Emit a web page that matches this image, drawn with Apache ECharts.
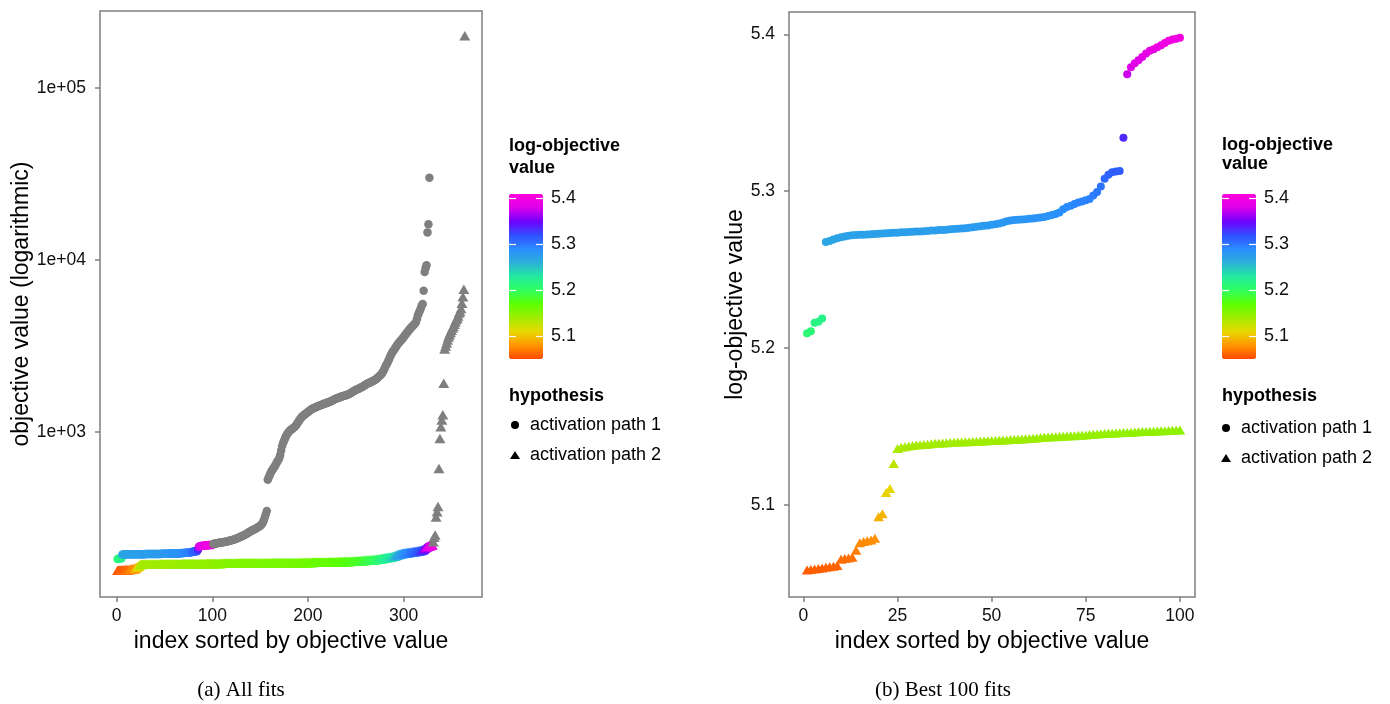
<!DOCTYPE html>
<html>
<head>
<meta charset="utf-8">
<script src="https://cdn.jsdelivr.net/npm/echarts@6.0.0/dist/echarts.min.js"></script>
<style>
html, body { margin: 0; padding: 0; background: #fff; }
#main { width: 1390px; height: 704px; }
</style>
</head>
<body>
<div id="main"></div>
<script>
// log-objective values (natural log of the objective), sorted, one per fit
var bestPath1 = [
    5.2094, 5.2108, 5.2161, 5.2168, 5.2189, 5.2677, 5.2683, 5.2692, 5.2700, 5.2707,
    5.2712, 5.2716, 5.2719, 5.2721, 5.2722, 5.2723, 5.2724, 5.2726, 5.2728, 5.2729,
    5.2730, 5.2732, 5.2733, 5.2735, 5.2736, 5.2738, 5.2739, 5.2740, 5.2741, 5.2743,
    5.2744, 5.2745, 5.2747, 5.2749, 5.2750, 5.2752, 5.2753, 5.2755, 5.2757, 5.2759,
    5.2761, 5.2762, 5.2764, 5.2767, 5.2770, 5.2774, 5.2777, 5.2780, 5.2782, 5.2786,
    5.2790, 5.2794, 5.2800, 5.2808, 5.2814, 5.2816, 5.2818, 5.2820, 5.2822, 5.2824,
    5.2826, 5.2829, 5.2832, 5.2836, 5.2842, 5.2848, 5.2855, 5.2864, 5.2885, 5.2900,
    5.2908, 5.2918, 5.2928, 5.2935, 5.2942, 5.2950, 5.2972, 5.2995, 5.3030, 5.3080,
    5.3105, 5.3120, 5.3125, 5.3129, 5.3340, 5.3745, 5.3790, 5.3815, 5.3835, 5.3855,
    5.3878, 5.3895, 5.3905, 5.3918, 5.3930, 5.3945, 5.3958, 5.3966, 5.3972, 5.3978
];
var bestPath2 = [
    5.0586, 5.0590, 5.0593, 5.0596, 5.0599, 5.0603, 5.0606, 5.0610, 5.0615, 5.0655,
    5.0660, 5.0663, 5.0668, 5.0712, 5.0760, 5.0768, 5.0772, 5.0778, 5.0788, 5.0925,
    5.0945, 5.1080, 5.1106, 5.1265, 5.1361, 5.1368, 5.1372, 5.1376, 5.1379, 5.1382,
    5.1384, 5.1386, 5.1388, 5.1391, 5.1393, 5.1394, 5.1396, 5.1397, 5.1399, 5.1400,
    5.1401, 5.1402, 5.1403, 5.1404, 5.1405, 5.1406, 5.1407, 5.1408, 5.1410, 5.1411,
    5.1412, 5.1413, 5.1414, 5.1415, 5.1417, 5.1418, 5.1419, 5.1421, 5.1422, 5.1424,
    5.1426, 5.1428, 5.1430, 5.1432, 5.1434, 5.1435, 5.1436, 5.1437, 5.1438, 5.1440,
    5.1441, 5.1442, 5.1444, 5.1445, 5.1447, 5.1449, 5.1451, 5.1453, 5.1455, 5.1456,
    5.1457, 5.1458, 5.1459, 5.1461, 5.1462, 5.1463, 5.1464, 5.1466, 5.1467, 5.1468,
    5.1469, 5.1470, 5.1471, 5.1472, 5.1473, 5.1474, 5.1475, 5.1476, 5.1477, 5.1478
];
// fits 101.. (only in the "all fits" panel)
var restPath1 = [
    5.410, 5.413, 5.416, 5.418, 5.421, 5.423, 5.425, 5.427, 5.429, 5.431,
    5.433, 5.435, 5.437, 5.440, 5.443, 5.446, 5.449, 5.452, 5.455, 5.459,
    5.463, 5.467, 5.471, 5.476, 5.481, 5.486, 5.491, 5.497, 5.503, 5.509,
    5.515, 5.521, 5.527, 5.534, 5.541, 5.548, 5.556, 5.564, 5.572, 5.580,
    5.588, 5.594, 5.600, 5.606, 5.612, 5.620, 5.628, 5.636, 5.644, 5.652,
    5.664, 5.678, 5.700, 5.730, 5.770, 5.810, 5.850, 6.270, 6.300, 6.330,
    6.360, 6.385, 6.405, 6.425, 6.445, 6.465, 6.490, 6.515, 6.535, 6.560,
    6.600, 6.660, 6.720, 6.760, 6.790, 6.820, 6.850, 6.875, 6.895, 6.910,
    6.925, 6.935, 6.945, 6.955, 6.965, 6.975, 6.990, 7.005, 7.025, 7.045,
    7.065, 7.085, 7.100, 7.115, 7.125, 7.135, 7.145, 7.155, 7.165, 7.175,
    7.185, 7.195, 7.205, 7.215, 7.222, 7.228, 7.234, 7.240, 7.245, 7.250,
    7.255, 7.260, 7.265, 7.270, 7.275, 7.280, 7.285, 7.290, 7.295, 7.300,
    7.305, 7.310, 7.315, 7.320, 7.325, 7.332, 7.340, 7.346, 7.352, 7.357,
    7.362, 7.367, 7.372, 7.377, 7.382, 7.386, 7.390, 7.394, 7.398, 7.402,
    7.407, 7.412, 7.418, 7.424, 7.432, 7.440, 7.448, 7.456, 7.464, 7.470,
    7.476, 7.482, 7.488, 7.494, 7.500, 7.507, 7.514, 7.522, 7.530, 7.538,
    7.546, 7.554, 7.560, 7.566, 7.572, 7.578, 7.584, 7.590, 7.598, 7.606,
    7.614, 7.624, 7.636, 7.648, 7.660, 7.672, 7.686, 7.704, 7.728, 7.756,
    7.784, 7.810, 7.832, 7.860, 7.890, 7.918, 7.945, 7.968, 7.988, 8.005,
    8.025, 8.045, 8.065, 8.085, 8.100, 8.115, 8.130, 8.145, 8.160, 8.178,
    8.195, 8.212, 8.228, 8.245, 8.262, 8.278, 8.292, 8.306, 8.320, 8.334,
    8.348, 8.362, 8.380, 8.420, 8.470, 8.500, 8.530, 8.560, 8.600, 8.620,
    8.800, 9.050, 9.100, 9.140, 9.580, 9.690, 10.310
];
var restPath2 = [
    5.148, 5.148, 5.149, 5.149, 5.149, 5.150, 5.150, 5.150, 5.150, 5.151,
    5.151, 5.151, 5.151, 5.152, 5.152, 5.152, 5.152, 5.152, 5.153, 5.153,
    5.153, 5.153, 5.153, 5.153, 5.154, 5.154, 5.154, 5.154, 5.154, 5.154,
    5.154, 5.155, 5.155, 5.155, 5.155, 5.155, 5.155, 5.155, 5.155, 5.156,
    5.156, 5.156, 5.156, 5.156, 5.156, 5.156, 5.156, 5.156, 5.156, 5.157,
    5.157, 5.157, 5.157, 5.157, 5.157, 5.157, 5.157, 5.157, 5.157, 5.157,
    5.157, 5.157, 5.157, 5.158, 5.158, 5.158, 5.158, 5.158, 5.158, 5.158,
    5.158, 5.158, 5.158, 5.158, 5.158, 5.158, 5.158, 5.158, 5.158, 5.159,
    5.159, 5.159, 5.159, 5.159, 5.159, 5.159, 5.159, 5.159, 5.160, 5.160,
    5.160, 5.160, 5.160, 5.161, 5.161, 5.161, 5.161, 5.162, 5.162, 5.162,
    5.162, 5.163, 5.163, 5.163, 5.163, 5.164, 5.164, 5.164, 5.164, 5.165,
    5.165, 5.165, 5.165, 5.166, 5.166, 5.166, 5.166, 5.167, 5.167, 5.167,
    5.167, 5.168, 5.168, 5.168, 5.168, 5.169, 5.169, 5.169, 5.169, 5.170,
    5.170, 5.171, 5.171, 5.172, 5.172, 5.173, 5.173, 5.174, 5.174, 5.175,
    5.175, 5.176, 5.176, 5.177, 5.178, 5.178, 5.179, 5.179, 5.180, 5.181,
    5.181, 5.182, 5.183, 5.184, 5.185, 5.186, 5.187, 5.188, 5.189, 5.190,
    5.191, 5.192, 5.193, 5.194, 5.195, 5.196, 5.197, 5.198, 5.199, 5.200,
    5.202, 5.204, 5.206, 5.208, 5.210, 5.212, 5.214, 5.216, 5.219, 5.222,
    5.224, 5.226, 5.228, 5.230, 5.232, 5.234, 5.236, 5.238, 5.241, 5.245,
    5.250, 5.256, 5.262, 5.266, 5.270, 5.273, 5.276, 5.279, 5.282, 5.285,
    5.287, 5.289, 5.291, 5.293, 5.295, 5.297, 5.299, 5.301, 5.303, 5.305,
    5.307, 5.309, 5.311, 5.313, 5.315, 5.317, 5.320, 5.323, 5.326, 5.330,
    5.340, 5.352, 5.362, 5.370, 5.376, 5.381, 5.386, 5.390, 5.394, 5.398,
    5.44, 5.50, 5.53, 5.77, 5.84, 5.91, 6.42, 6.82, 6.98, 7.07,
    7.14, 7.56, 8.02, 8.06, 8.10, 8.14, 8.18, 8.21, 8.24, 8.27,
    8.30, 8.32, 8.35, 8.38, 8.41, 8.43, 8.46, 8.50, 8.52, 8.56,
    8.63, 8.72, 8.82, 12.21
];

var hypotheses = ['activation path 1', 'activation path 2'];
var allXTicks = [0, 100, 200, 300];
var allYTicks = [1e3, 1e4, 1e5];
var bestXTicks = [0, 25, 50, 75, 100];
var bestYTicks = [5.1, 5.2, 5.3, 5.4];
var scaleTicks = [5.1, 5.2, 5.3, 5.4];
var scaleMin = 5.051, scaleMax = 5.4087;
var rainbow = ['#ff4800', '#ff9600', '#e8d800', '#a0ec00', '#5cff00', '#30ff60', '#22eaa0',
               '#2cb0d8', '#2a8cff', '#3050ff', '#7000ff', '#dc00ea', '#ff00dc'];

var FONT = '"Liberation Sans", Arial, Helvetica, sans-serif';
var GREY = '#7f7f7f';

function allFits(logs) {
    return logs.map(function (v, i) { return [i + 1, Math.exp(v), v]; });
}
function bestFits(logs) {
    return logs.map(function (v, i) { return [i + 1, v]; });
}

function plotAxis(extra) {
    var axis = {
        type: 'value',
        axisLine: { show: false, onZero: false },
        splitLine: { show: false },
        nameLocation: 'middle',
        nameTextStyle: { color: '#000', fontSize: 23, fontFamily: FONT }
    };
    return Object.assign(axis, extra);
}
function ticks(values) {
    return { show: true, length: 5, customValues: values, lineStyle: { color: GREY, width: 1.5 } };
}
function labels(values, margin, fmt) {
    var l = { color: '#111', fontSize: 17.5, fontFamily: FONT, margin: margin, customValues: values };
    if (fmt) l.formatter = fmt;
    return l;
}

function scaleAxis(grid, side) {
    return {
        type: 'value', gridIndex: grid, position: side, min: scaleMin, max: scaleMax, z: 10,
        axisLine: { show: false, onZero: false },
        splitLine: { show: false },
        axisTick: { show: true, inside: true, length: 7, customValues: scaleTicks,
                    lineStyle: { color: '#fff', width: 1.2 } },
        axisLabel: { show: side === 'right', customValues: scaleTicks, margin: 8,
                     color: '#111', fontSize: 18, fontFamily: FONT,
                     formatter: function (v) { return v.toFixed(1); } }
    };
}

function colourBar(series, dim, left) {
    // range just inside max, so values above the scale fall out of range (grey)
    return { type: 'continuous', seriesIndex: series, dimension: dim,
             min: scaleMin, max: scaleMax + 0.0002, range: [scaleMin, scaleMax],
             inRange: { color: rainbow }, outOfRange: { color: GREY },
             left: left, top: 194, itemWidth: 34, itemHeight: 165, padding: 0,
             calculable: false, hoverLink: false, text: null };
}

function legendBox(left, top) {
    return {
        orient: 'vertical', left: left, top: top, padding: 0,
        itemWidth: 10, itemHeight: 8, itemGap: 10, selectedMode: false,
        textStyle: { fontSize: 18, fontFamily: FONT, color: '#000', lineHeight: 20, padding: [0, 0, 0, 5] },
        data: [
            { name: hypotheses[0], icon: 'circle', itemStyle: { color: '#000' } },
            { name: hypotheses[1], icon: 'triangle', itemStyle: { color: '#000' } }
        ]
    };
}

function label(x, y, text, font, align) {
    return { type: 'text', x: x, y: y, silent: true,
             style: { text: text, font: font, fill: '#000', align: align || 'left', verticalAlign: 'middle' } };
}

var myChart = echarts.init(document.getElementById('main'));
var option = {
    animation: false,
    backgroundColor: '#fff',
    grid: [
        { left: 100, top: 11, width: 382, height: 586, show: true, borderColor: GREY, borderWidth: 1.5, outerBoundsMode: 'none' },
        { left: 789, top: 12, width: 406, height: 585, show: true, borderColor: GREY, borderWidth: 1.5, outerBoundsMode: 'none' },
        { left: 509, top: 194, width: 34, height: 165, outerBoundsMode: 'none' },
        { left: 1222, top: 194, width: 34, height: 165, outerBoundsMode: 'none' }
    ],
    xAxis: [
        plotAxis({ gridIndex: 0, min: -17.4, max: 382, name: 'index sorted by objective value', nameGap: 32,
                   axisTick: ticks(allXTicks), axisLabel: labels(allXTicks, 10) }),
        plotAxis({ gridIndex: 1, min: -3.8, max: 104, name: 'index sorted by objective value', nameGap: 32,
                   axisTick: ticks(bestXTicks), axisLabel: labels(bestXTicks, 10) }),
        { type: 'value', gridIndex: 2, show: false, min: 0, max: 1 },
        { type: 'value', gridIndex: 3, show: false, min: 0, max: 1 }
    ],
    yAxis: [
        plotAxis({ type: 'log', logBase: 10, gridIndex: 0, min: 110, max: 280000,
                   name: 'objective value (logarithmic)', nameGap: 66,
                   axisTick: ticks(allYTicks),
                   axisLabel: labels(allYTicks, 14, function (v) { return '1e+0' + Math.round(Math.log10(v)); }) }),
        plotAxis({ gridIndex: 1, min: 5.0414, max: 5.4142, name: 'log-objective value', nameGap: 42,
                   axisTick: ticks(bestYTicks),
                   axisLabel: labels(bestYTicks, 14, function (v) { return v.toFixed(1); }) }),
        scaleAxis(2, 'left'),
        scaleAxis(2, 'right'),
        scaleAxis(3, 'left'),
        scaleAxis(3, 'right')
    ],
    visualMap: [colourBar([0, 1], 2, 509), colourBar([2, 3], 1, 1222)],
    legend: [legendBox(510, 415), legendBox(1221, 418)],
    graphic: [
        label(509, 146.5, 'log-objective', 'bold 18px ' + FONT),
        label(509, 168.5, 'value', 'bold 18px ' + FONT),
        label(509, 396.5, 'hypothesis', 'bold 18px ' + FONT),
        label(1222, 145, 'log-objective', 'bold 18px ' + FONT),
        label(1222, 164.5, 'value', 'bold 18px ' + FONT),
        label(1222, 396.5, 'hypothesis', 'bold 18px ' + FONT),
        label(241, 690, '(a) All fits', '21px "Liberation Serif", "Times New Roman", serif', 'center'),
        label(943, 690, '(b) Best 100 fits', '21px "Liberation Serif", "Times New Roman", serif', 'center')
    ],
    series: [
        { type: 'scatter', name: hypotheses[0], xAxisIndex: 0, yAxisIndex: 0, symbol: 'circle', symbolSize: 8.5,
          itemStyle: { opacity: 1 }, emphasis: { disabled: true }, data: allFits(bestPath1.concat(restPath1)) },
        { type: 'scatter', name: hypotheses[1], xAxisIndex: 0, yAxisIndex: 0, symbol: 'triangle', symbolSize: [11, 9.5],
          itemStyle: { opacity: 1 }, emphasis: { disabled: true }, data: allFits(bestPath2.concat(restPath2)) },
        { type: 'scatter', name: hypotheses[0], xAxisIndex: 1, yAxisIndex: 1, symbol: 'circle', symbolSize: 8,
          itemStyle: { opacity: 1 }, emphasis: { disabled: true }, data: bestFits(bestPath1) },
        { type: 'scatter', name: hypotheses[1], xAxisIndex: 1, yAxisIndex: 1, symbol: 'triangle', symbolSize: [10.5, 9],
          itemStyle: { opacity: 1 }, emphasis: { disabled: true }, data: bestFits(bestPath2) }
    ]
};
myChart.setOption(option);
</script>
</body>
</html>
